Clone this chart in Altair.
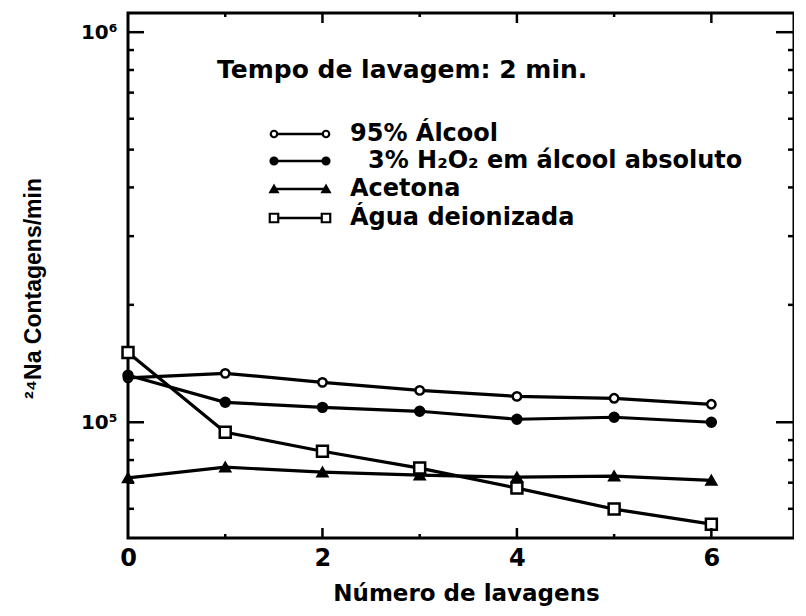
import altair as alt
import pandas as pd

# ---- data ----
washes = [0, 1, 2, 3, 4, 5, 6]
alcool95 = [1.30e5, 1.335e5, 1.266e5, 1.207e5, 1.165e5, 1.152e5, 1.112e5]
h2o2 = [1.32e5, 1.125e5, 1.092e5, 1.067e5, 1.018e5, 1.03e5, 1.0e5]
acetona = [7.2e4, 7.67e4, 7.45e4, 7.32e4, 7.23e4, 7.28e4, 7.1e4]
agua = [1.51e5, 9.43e4, 8.43e4, 7.63e4, 6.78e4, 5.99e4, 5.48e4]
series_names = ["95% Álcool", "3% H₂O₂ em álcool absoluto", "Acetona", "Água deionizada"]
x_tick_labels = [0, 2, 4, 6]
y_major = [1e5, 1e6]
y_minor = [6e4, 7e4, 8e4, 9e4, 2e5, 3e5, 4e5, 5e5, 6e5, 7e5, 8e5, 9e5]
x_major = [2, 4, 6]
x_minor = [1, 3, 5]

W, H = 666, 525
FONT = "DejaVu Sans"

rows = []
for name, vals in zip(series_names, [alcool95, h2o2, acetona, agua]):
    for xv, yv in zip(washes, vals):
        rows.append({"serie": name, "n": xv, "c": yv})
df = pd.DataFrame(rows)

xs = alt.Scale(domain=[0, 6.85], nice=False, zero=False)
ys = alt.Scale(type="log", domain=[5.05e4, 1.12e6], nice=False)

x_axis = alt.Axis(values=x_tick_labels, format="d", ticks=False, domain=False, grid=False,
                  labelFont=FONT, labelFontSize=24, labelFontWeight="bold", labelColor="black",
                  labelPadding=8, labelBaseline="top", labelFlush=False,
                  title="Número de lavagens", titleFont=FONT, titleFontSize=23, titleFontWeight="bold",
                  titleColor="black", titleX=338, titleY=55, titleAlign="center", titleBaseline="middle")
y_axis = alt.Axis(values=y_major, labelExpr="datum.value >= 1e6 ? '10⁶' : '10⁵'",
                  ticks=False, domain=False, grid=False, labelFlush=False,
                  labelFont=FONT, labelFontSize=20, labelFontWeight="bold", labelColor="black",
                  labelPadding=11,
                  title="²⁴Na Contagens/min", titleFont="Liberation Sans", titleFontSize=23,
                  titleFontWeight="bold", titleColor="black", titleX=-95, titleY=275,
                  titleAlign="center", titleBaseline="middle", titleAngle=270)

X = lambda f: alt.X(f, scale=xs, axis=x_axis)
Y = lambda f: alt.Y(f, scale=ys, axis=y_axis)

base = alt.Chart(df)
lines = base.mark_line(color="black", strokeWidth=3.2).encode(
    x=X("n:Q"), y=Y("c:Q"), detail="serie:N",
)

marker_styles = [
    dict(shape="circle", filled=False, size=70),
    dict(shape="circle", filled=True, size=80),
    dict(shape="triangle-up", filled=True, size=90),
    dict(shape="square", filled=False, size=120),
]

layers = [lines]
for name, st in zip(series_names, marker_styles):
    fill = "black" if st["filled"] else "white"
    layers.append(
        base.transform_filter(alt.datum.serie == name).mark_point(
            shape=st["shape"], size=st["size"], filled=True, fill=fill, stroke="black",
            strokeWidth=2.5, opacity=1
        ).encode(x=X("n:Q"), y=Y("c:Q"))
    )

# inward ticks on the frame
def yticks(vals, x1, x2):
    return alt.Chart(pd.DataFrame({"c": vals})).mark_rule(color="black", strokeWidth=2.5).encode(
        y=Y("c:Q"), x=alt.value(x1), x2=alt.value(x2))

def xticks(vals, y1, y2):
    return alt.Chart(pd.DataFrame({"n": vals})).mark_rule(color="black", strokeWidth=2.5).encode(
        x=X("n:Q"), y=alt.value(y1), y2=alt.value(y2))

layers += [
    yticks(y_major, 0, 16), yticks(y_minor, 0, 6),
    yticks(y_major, W - 18, W), yticks(y_minor, W - 6, W),
    xticks(x_major, 0, 10), xticks(x_minor, 0, 4),
    xticks(x_major, H - 10, H), xticks(x_minor, H - 4, H),
]

# title inside the plot
layers.append(alt.Chart(pd.DataFrame({"t": ["Tempo de lavagem: 2 min."]})).mark_text(
    font=FONT, fontSize=25, fontWeight="bold", align="left", baseline="middle", color="black"
).encode(text="t:N", x=alt.value(89), y=alt.value(57)))

# hand-made legend (line with markers at both ends)
leg_y = [121, 148, 176, 205]
leg_x_text = [222, 240, 222, 222]
for name, st, ry, tx in zip(series_names, marker_styles, leg_y, leg_x_text):
    ldf = pd.DataFrame({"label": [name]})
    fill = "black" if st["filled"] else "white"
    layers.append(alt.Chart(ldf).mark_rule(color="black", strokeWidth=2.5).encode(
        x=alt.value(146), x2=alt.value(198), y=alt.value(ry)))
    for px in (146, 198):
        layers.append(alt.Chart(ldf).mark_point(
            shape=st["shape"], size=st["size"] * 0.6, filled=True, fill=fill, stroke="black",
            strokeWidth=2.2, opacity=1).encode(x=alt.value(px), y=alt.value(ry)))
    layers.append(alt.Chart(ldf).mark_text(
        font=FONT, fontSize=24, fontWeight="bold", align="left", baseline="middle", color="black"
    ).encode(text="label:N", x=alt.value(tx), y=alt.value(ry)))

chart = alt.layer(*layers).properties(
    width=W, height=H,
    autosize=alt.AutoSizeParams(type="none"),
    padding={"left": 120, "top": 5, "right": 0, "bottom": 70},
    background="white",
).configure_view(stroke="black", strokeWidth=3)

chart.save("out.html", embed_options={"renderer": "svg", "actions": False})
